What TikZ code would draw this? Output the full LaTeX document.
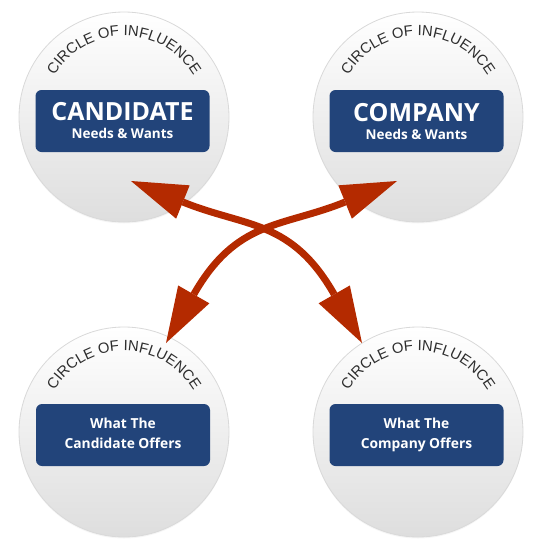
\documentclass[tikz,border=0pt]{standalone}
\usepackage{fontspec}
\setmainfont{Liberation Sans}
\newfontfamily\boxfont{Open Sans}
\usetikzlibrary{arrows.meta,decorations.text,shadows}
\definecolor{boxblue}{RGB}{34,68,122}
\definecolor{arrowred}{RGB}{180,42,0}
\definecolor{arctext}{RGB}{45,45,45}
\newcommand\influencefont{\fontsize{14.8}{16}\selectfont}
\begin{document}
\begin{tikzpicture}[x=1pt,y=-1pt,
  influence/.style={circle, minimum size=210pt, inner sep=0pt,
    top color=white, middle color=white, bottom color=black!13, draw=black!15, line width=0.8pt,
    drop shadow={shadow xshift=0pt, shadow yshift=-1.5pt, opacity=0.08}},
  needbox/.style={fill=boxblue, rounded corners=6pt, minimum width=174pt,
    minimum height=62pt, text=white, align=center, inner sep=0pt,
    font=\boxfont\bfseries\fontsize{13.5}{18}\selectfont},
  offerbox/.style={needbox, text depth=4pt, font=\boxfont\bfseries\fontsize{13.8}{20}\selectfont},
  arcname/.style={decorate, decoration={text along path, text align=center,
    text color=arctext, text={|\influencefont|CIRCLE OF INFLUENCE}}},
  link/.style={draw=arrowred, line width=7pt,
    >={Triangle[length=56pt,width=36pt,line width=0pt]}, <->},
]
\useasboundingbox (0,0) rectangle (539,544);

\node[influence] (c1) at (124,117) {};
\node[influence] (c2) at (418,117) {};
\node[influence] (c3) at (124,432) {};
\node[influence] (c4) at (418,432) {};

\path[arcname] ([shift={(-170:81)}]c1.center) arc[start angle=-170, end angle=-10, radius=81];
\path[arcname] ([shift={(-170:81)}]c2.center) arc[start angle=-170, end angle=-10, radius=81];
\path[arcname] ([shift={(-170:81)}]c3.center) arc[start angle=-170, end angle=-10, radius=81];
\path[arcname] ([shift={(-170:81)}]c4.center) arc[start angle=-170, end angle=-10, radius=81];

\node[needbox] (b1) at (122.5,121) {{\fontsize{25}{25}\selectfont CANDIDATE}\\Needs \& Wants};
\node[needbox] (b2) at (416.5,121) {{\fontsize{25}{25}\selectfont COMPANY}\\Needs \& Wants};
\node[offerbox] (b3) at (123,435) {What The\\Candidate Offers};
\node[offerbox] (b4) at (416.5,435) {What The\\Company Offers};

\coordinate (a1) at (131,181);
\coordinate (a2) at (362,343);
\coordinate (d1) at (397,181);
\coordinate (d2) at (166,343);
\draw[link] (a1) .. controls (245.8,227.5) and (291.2,219.1) .. (a2);
\draw[link] (d1) .. controls (282.2,227.5) and (236.8,219.1) .. (d2);
\end{tikzpicture}
\end{document}
